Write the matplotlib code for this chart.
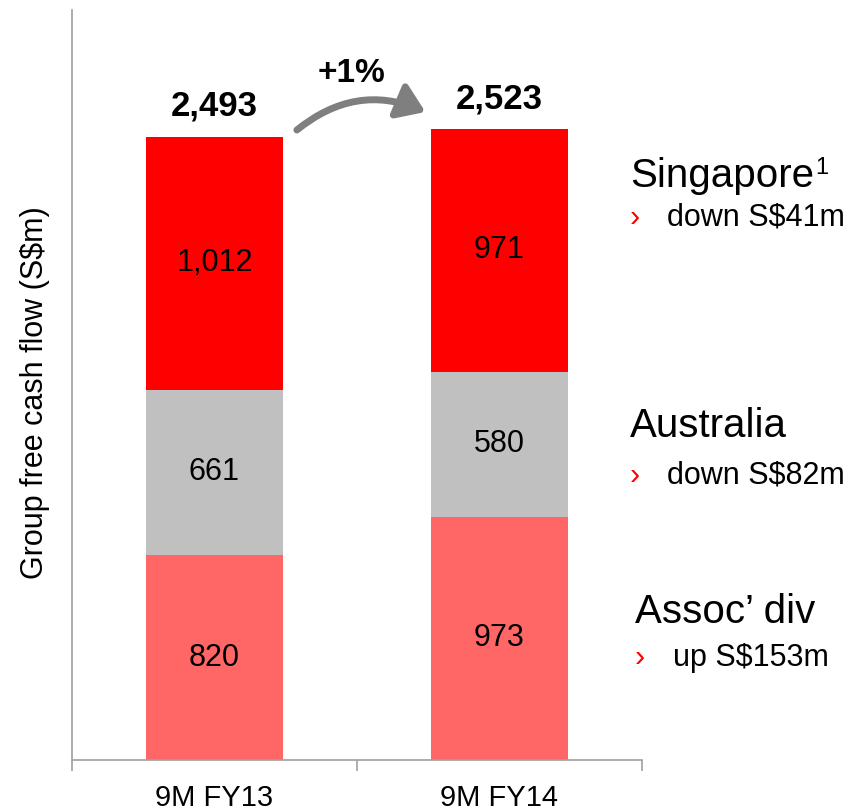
import numpy as np
import matplotlib.pyplot as plt

plt.rcParams['font.family'] = ['Liberation Sans', 'DejaVu Sans']

periods = ["9M FY13", "9M FY14"]
assoc_div = [820, 973]
australia = [661, 580]
singapore = [1012, 971]
totals = [2493, 2523]
growth_label = "+1%"

notes = [("Singapore", "down S$41m"),
         ("Australia", "down S$82m"),
         ("Assoc\u2019 div", "up S$153m")]

c_assoc = "#FF6666"
c_aus = "#C0C0C0"
c_sg = "#FF0000"

fig = plt.figure(figsize=(8.56, 8.10), dpi=100)
ax = fig.add_axes([72/856, 50/810, 570/856, 750/810])

x = np.arange(len(periods))
w = 0.48
b1 = ax.bar(x, assoc_div, w, color=c_assoc)
b2 = ax.bar(x, australia, w, bottom=assoc_div, color=c_aus)
bottom3 = np.array(assoc_div) + np.array(australia)
b3 = ax.bar(x, singapore, w, bottom=bottom3, color=c_sg)

for bars, vals in [(b1, assoc_div), (b2, australia), (b3, singapore)]:
    for r, v in zip(bars, vals):
        ax.text(r.get_x() + r.get_width()/2, r.get_y() + r.get_height()/2,
                f"{v:,}", ha="center", va="center", fontsize=22)

for xi, t in zip(x, totals):
    ax.text(xi, t + 84, f"{t:,}", ha="center", va="baseline", fontsize=25, fontweight="bold")

# growth arrow
ax.annotate("", xy=(0.74, 2592), xytext=(0.289, 2520),
            arrowprops=dict(arrowstyle="-|>,head_length=1.6,head_width=1.1",
                            color="#7F7F7F", lw=5, shrinkA=0, shrinkB=0,
                            connectionstyle="arc3,rad=-0.3"))
ax.text(0.48, 2748, growth_label, ha="center", va="center", fontsize=24, fontweight="bold")

ax.set_xlim(-0.5, 1.5)
ax.set_ylim(0, 3000)
ax.set_xticks(x)
ax.set_xticklabels(periods, fontsize=21)
ax.tick_params(axis="x", length=0, pad=17)
ax.set_xticks([-0.5, 0.5, 1.5], minor=True)
ax.tick_params(axis="x", which="minor", length=8, color="#A0A0A0", width=1.2)
ax.set_yticks([])
ax.set_ylabel("Group free cash flow (S$m)", fontsize=22)
ax.yaxis.set_label_coords(-22/570, 0.49)

for s in ["top", "right"]:
    ax.spines[s].set_visible(False)
for s in ["left", "bottom"]:
    ax.spines[s].set_color("#A0A0A0")
    ax.spines[s].set_linewidth(1.2)

# side notes (baselines in pixels from top)
note_y = [(187, 226), (437, 484), (623, 666)]
note_x = [(630, 667), (630, 667), (635, 673)]
for (title, sub), (ty, sy), (tx, sx) in zip(notes, note_y, note_x):
    fig.text(tx/856, 1 - ty/810, title, fontsize=29, va="baseline", ha="left")
    fig.text(tx/856, 1 - sy/810, "\u203a", fontsize=22, color="#FF0000", va="baseline", ha="left")
    fig.text(sx/856, 1 - sy/810, sub, fontsize=22, va="baseline", ha="left")
fig.text(815/856, 1 - 157/810, "1", fontsize=17, va="top", ha="left")

fig.savefig("out.png", dpi=100)
